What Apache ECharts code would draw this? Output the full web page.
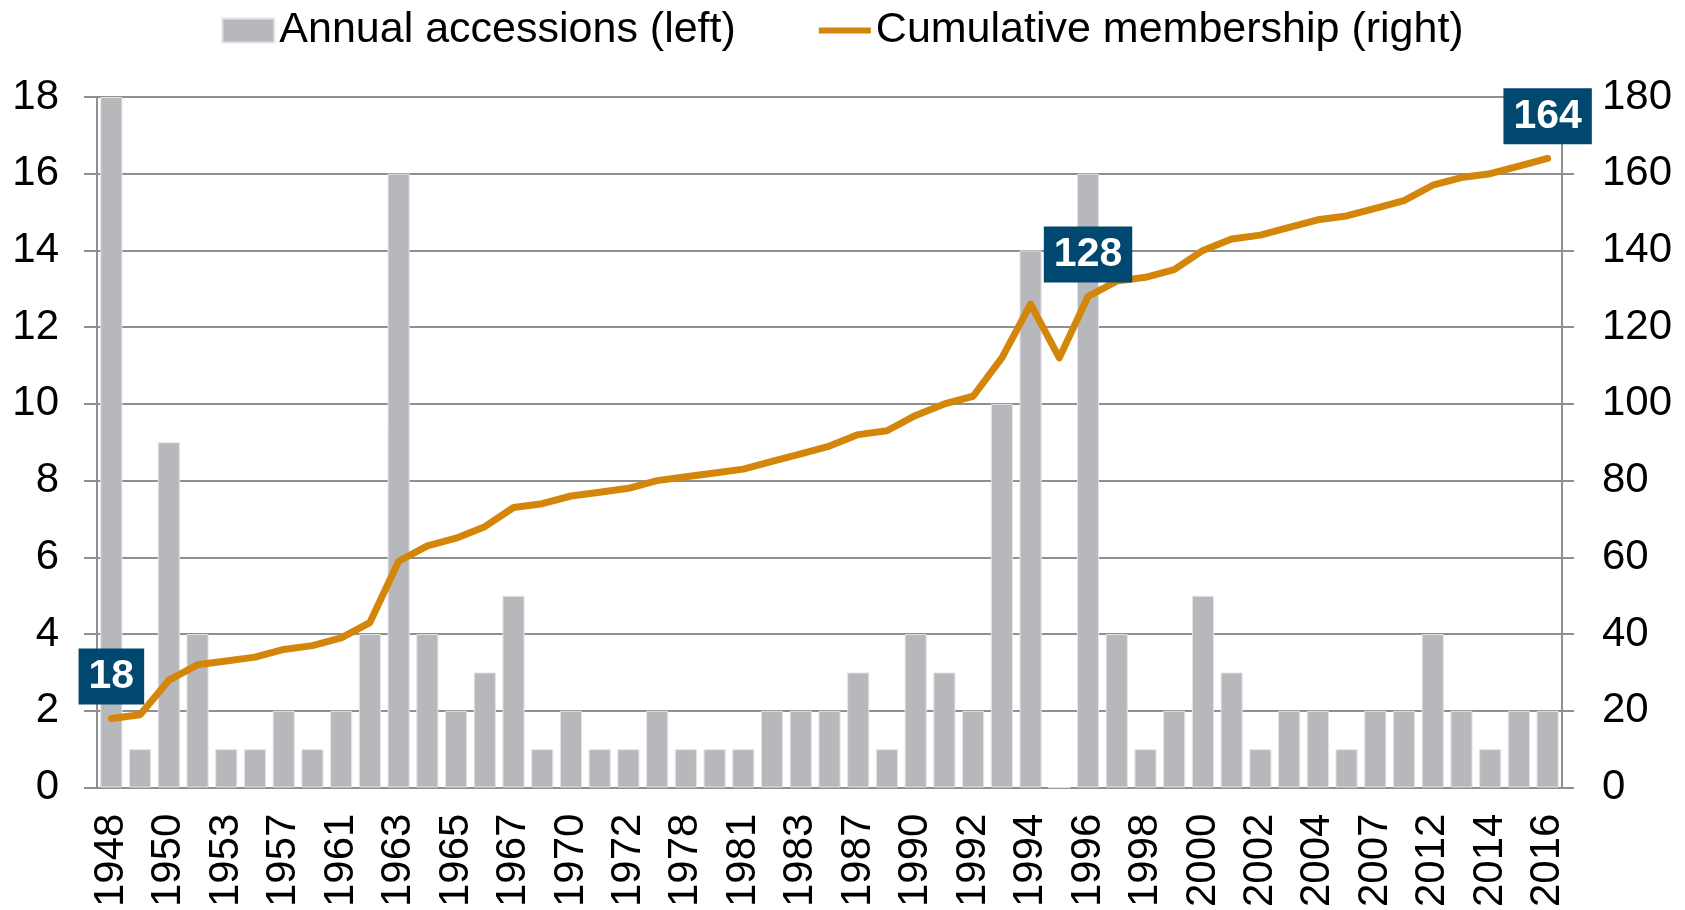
<!DOCTYPE html>
<html>
<head>
<meta charset="utf-8">
<script src="https://cdn.jsdelivr.net/npm/echarts@6/dist/echarts.min.js"></script>
<style>
  html, body { margin: 0; padding: 0; background: #fff; }
  #chart { width: 1685px; height: 910px; }
</style>
</head>
<body>
<div id="chart"></div>
<script>
const years = ['1948', '1949', '1950', '1951', '1953', '1955', '1957', '1960', '1961', '1962',
  '1963', '1964', '1965', '1966', '1967', '1968', '1970', '1971', '1972', '1973',
  '1978', '1979', '1981', '1982', '1983', '1986', '1987', '1988', '1990', '1991',
  '1992', '1993', '1994', '1995', '1996', '1997', '1998', '1999', '2000', '2001',
  '2002', '2003', '2004', '2005', '2007', '2008', '2012', '2013', '2014', '2015', '2016'];

const annualAccessions = [18, 1, 9, 4, 1, 1, 2, 1, 2, 4,
  16, 4, 2, 3, 5, 1, 2, 1, 1, 2,
  1, 1, 1, 2, 2, 2, 3, 1, 4, 3,
  2, 10, 14, 0, 16, 4, 1, 2, 5, 3,
  1, 2, 2, 1, 2, 2, 4, 2, 1, 2, 2];

const cumulativeMembership = [18, 19, 28, 32, 33, 34, 36, 37, 39, 43,
  59, 63, 65, 68, 73, 74, 76, 77, 78, 80,
  81, 82, 83, 85, 87, 89, 92, 93, 97, 100,
  102, 112, 126, 112, 128, 132, 133, 135, 140, 143,
  144, 146, 148, 149, 151, 153, 157, 159, 160, 162, 164];

const labelledYears = ['1948', '1996', '2016'];

const leftTicks = { min: 0, max: 18, interval: 2 };
const rightTicks = { min: 0, max: 180, interval: 20 };

const font = 'Liberation Sans';
const gridGray = '#8f8f8f';

const chart = echarts.init(document.getElementById('chart'));
chart.setOption({
  animation: false,
  textStyle: { fontFamily: font },
  legend: {
    top: 4,
    left: 'center',
    itemWidth: 52,
    itemHeight: 24,
    itemGap: 83,
    textStyle: { fontSize: 43, color: '#000', fontFamily: font },
    data: [
      { name: 'Annual accessions (left)', icon: 'rect' },
      { name: 'Cumulative membership (right)', icon: 'path://M0,0 L50,0 L50,6 L0,6 Z' }
    ]
  },
  grid: {
    left: 97,
    right: 123,
    top: 97,
    bottom: 121
  },
  xAxis: {
    type: 'category',
    data: years,
    boundaryGap: true,
    axisLine: { lineStyle: { color: gridGray, width: 2 } },
    axisTick: { interval: 0, length: 13, lineStyle: { color: gridGray, width: 2 } },
    axisLabel: {
      interval: 1,
      rotate: 90,
      margin: 26,
      fontSize: 42,
      color: '#000',
      fontFamily: font
    }
  },
  yAxis: [
    {
      type: 'value',
      min: leftTicks.min,
      max: leftTicks.max,
      interval: leftTicks.interval,
      axisLine: { show: true, lineStyle: { color: gridGray, width: 2 } },
      axisTick: { show: true, length: 13, lineStyle: { color: gridGray, width: 2 } },
      splitLine: { lineStyle: { color: gridGray, width: 2 } },
      axisLabel: { fontSize: 42, color: '#000', margin: 38, fontFamily: font }
    },
    {
      type: 'value',
      min: rightTicks.min,
      max: rightTicks.max,
      interval: rightTicks.interval,
      axisLine: { show: true, lineStyle: { color: gridGray, width: 2 } },
      axisTick: { show: true, length: 12, lineStyle: { color: gridGray, width: 2 } },
      splitLine: { show: false },
      axisLabel: { fontSize: 42, color: '#000', margin: 40, fontFamily: font }
    }
  ],
  series: [
    {
      name: 'Annual accessions (left)',
      type: 'bar',
      yAxisIndex: 0,
      barCategoryGap: '23%',
      itemStyle: { color: '#b7b8bc', borderColor: '#e4e4e6', borderWidth: 1 },
      data: annualAccessions
    },
    {
      name: 'Cumulative membership (right)',
      type: 'line',
      yAxisIndex: 1,
      showSymbol: true,
      symbol: 'circle',
      symbolSize: 0.1,
      z: 5,
      lineStyle: { color: '#d4860b', width: 7, cap: 'round', join: 'round' },
      itemStyle: { color: '#d4860b' },
      data: cumulativeMembership.map((v, i) => {
        if (labelledYears.indexOf(years[i]) < 0) return v;
        return {
          value: v,
          label: {
            show: true,
            position: 'top',
            distance: 14,
            backgroundColor: '#00486f',
            color: '#fff',
            fontSize: 41,
            fontWeight: 'bold',
            fontFamily: font,
            lineHeight: 42,
            padding: [7, 10, 7, 10]
          }
        };
      })
    }
  ]
});
</script>
</body>
</html>
